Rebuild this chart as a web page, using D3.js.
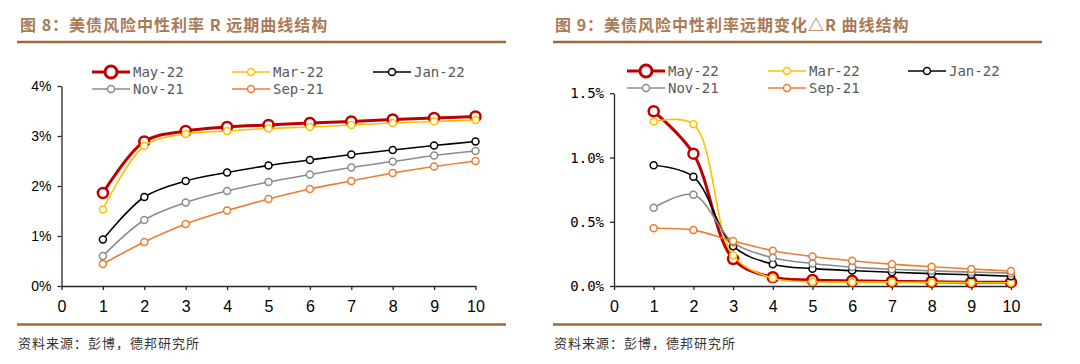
<!DOCTYPE html>
<html>
<head>
<meta charset="utf-8">
<script src="https://cdn.jsdelivr.net/npm/d3@7"></script>
<style>
  body { margin: 0; background: #fff; }
  svg { display: block; }
</style>
</head>
<body>
<div id="chart"></div>
<script>
// tenor (years) on the x axis
const tenors = [1, 2, 3, 4, 5, 6, 7, 8, 9, 10]
const seriesNames = ["May-22", "Mar-22", "Jan-22", "Nov-21", "Sep-21"]

// 图8: R level, %
const levelMay22 = [1.86, 2.89, 3.10, 3.18, 3.22, 3.26, 3.29, 3.33, 3.36, 3.39]
const levelMar22 = [1.53, 2.80, 3.04, 3.10, 3.15, 3.18, 3.22, 3.26, 3.29, 3.32]
const levelJan22 = [0.93, 1.78, 2.10, 2.27, 2.41, 2.52, 2.63, 2.72, 2.81, 2.89]
const levelNov21 = [0.60, 1.32, 1.67, 1.90, 2.08, 2.23, 2.37, 2.49, 2.61, 2.70]
const levelSep21 = [0.44, 0.88, 1.24, 1.51, 1.74, 1.94, 2.10, 2.26, 2.39, 2.50]

// 图9: forward change ΔR, %
const deltaMay22 = [1.36, 1.03, 0.21, 0.068, 0.047, 0.040, 0.036, 0.033, 0.030, 0.030]
const deltaMar22 = [1.28, 1.26, 0.24, 0.060, 0.033, 0.030, 0.030, 0.028, 0.026, 0.025]
const deltaJan22 = [0.94, 0.85, 0.31, 0.17, 0.135, 0.120, 0.107, 0.096, 0.087, 0.076]
const deltaNov21 = [0.61, 0.71, 0.34, 0.22, 0.175, 0.147, 0.130, 0.118, 0.108, 0.100]
const deltaSep21 = [0.45, 0.435, 0.35, 0.275, 0.230, 0.197, 0.170, 0.150, 0.132, 0.117]

const xTicks = [0, 1, 2, 3, 4, 5, 6, 7, 8, 9, 10]
const levelTicks = [0, 1, 2, 3, 4]
const deltaTicks = [0, 0.5, 1.0, 1.5]

const styles = {
    "May-22": {color: "#c00000", width: 3, r: 5, rw: 2.5, lr: 6, lrw: 3},
    "Mar-22": {color: "#ffc000", width: 1.6, r: 3.5, rw: 1.5, lr: 3.5, lrw: 1.5},
    "Jan-22": {color: "#000000", width: 1.6, r: 3.5, rw: 1.5, lr: 3.5, lrw: 1.5},
    "Nov-21": {color: "#8c8c8c", width: 1.6, r: 3.5, rw: 1.5, lr: 3.5, lrw: 1.5},
    "Sep-21": {color: "#ed7d31", width: 1.6, r: 3.5, rw: 1.5, lr: 3.5, lrw: 1.5},
}

const brown = "#a0693a"

var svg = d3.select("#chart").append("svg")
    .attr("width", 1080)
    .attr("height", 364)

svg.append("rect").attr("width", 1080).attr("height", 364).attr("fill", "#fff")

function drawPanel(opt) {
    var g = svg.append("g")

    // title + rules
    g.append("text")
        .attr("x", opt.titleX).attr("y", 31)
        .attr("font-family", "'Noto Sans CJK SC', sans-serif")
        .attr("font-weight", "bold")
        .attr("font-size", 16)
        .attr("letter-spacing", 1)
        .attr("fill", "#a87a55")
        .text(opt.title)
    g.append("line")
        .attr("x1", opt.ruleX0).attr("x2", opt.ruleX1)
        .attr("y1", 42).attr("y2", 42)
        .attr("stroke", brown).attr("stroke-width", 2.5)
    g.append("line")
        .attr("x1", opt.ruleX0).attr("x2", opt.ruleX1)
        .attr("y1", 324.5).attr("y2", 324.5)
        .attr("stroke", brown).attr("stroke-width", 2.5)
    g.append("text")
        .attr("x", opt.ruleX0 + 1).attr("y", 348)
        .attr("font-family", "'Noto Sans CJK SC', serif")
        .attr("font-size", 13)
        .attr("letter-spacing", 1)
        .attr("fill", "#333")
        .text("资料来源：彭博，德邦研究所")

    var x = d3.scaleLinear().domain([0, 10]).range([opt.x0, opt.x1])
    var y = d3.scaleLinear().domain(opt.yDomain).range([286, opt.yTop])

    // axes
    var xAxis = g.append("g")
        .attr("transform", "translate(0,286)")
        .call(d3.axisBottom(x).tickValues(xTicks).tickSize(4).tickSizeOuter(0).tickFormat(d3.format("d")))
    xAxis.selectAll("text")
        .attr("font-family", "'Liberation Sans', Arial, sans-serif")
        .attr("font-size", 16).attr("fill", "#000").attr("dy", 19)
    xAxis.selectAll("line, path").attr("stroke", "#262626").attr("stroke-width", 1.3)

    var yAxis = g.append("g")
        .attr("transform", "translate(" + opt.x0 + ",0)")
        .call(d3.axisLeft(y).tickValues(opt.yTicks).tickSize(4).tickSizeOuter(0).tickFormat(opt.yFormat))
    yAxis.selectAll("text")
        .attr("font-family", opt.yFont)
        .attr("font-size", 14).attr("fill", "#000").attr("x", -10)
    yAxis.selectAll("line, path").attr("stroke", "#262626").attr("stroke-width", 1.3)

    var line = d3.line()
        .x(function(d, i) { return x(tenors[i]) })
        .y(function(d) { return y(d) })
        .curve(d3.curveCatmullRom.alpha(0.5))

    opt.series.forEach(function(vals, k) {
        var name = seriesNames[k]
        var s = styles[name]
        var sg = g.append("g")
        sg.append("path")
            .attr("d", line(vals))
            .attr("fill", "none")
            .attr("stroke", s.color)
            .attr("stroke-width", s.width)
        sg.selectAll("circle")
            .data(vals)
            .enter().append("circle")
            .attr("cx", function(d, i) { return x(tenors[i]) })
            .attr("cy", function(d) { return y(d) })
            .attr("r", s.r)
            .attr("fill", "#fff")
            .attr("stroke", s.color)
            .attr("stroke-width", s.rw)
    })

    // legend
    var lg = g.append("g")
    seriesNames.forEach(function(name, k) {
        var s = styles[name]
        var col = k % 3, row = Math.floor(k / 3)
        var lx = opt.legX[col], ly = opt.legY[row]
        lg.append("line")
            .attr("x1", lx).attr("x2", lx + 38)
            .attr("y1", ly).attr("y2", ly)
            .attr("stroke", s.color).attr("stroke-width", s.width)
        lg.append("circle")
            .attr("cx", lx + 19).attr("cy", ly)
            .attr("r", s.lr)
            .attr("fill", "#fff")
            .attr("stroke", s.color).attr("stroke-width", s.lrw)
        lg.append("text")
            .attr("x", lx + 41).attr("y", ly + 5)
            .attr("font-family", "'DejaVu Sans Mono', monospace")
            .attr("font-size", 14)
            .attr("fill", "#595959")
            .text(name)
    })
}

drawPanel({
    title: "图 8：美债风险中性利率 R 远期曲线结构",
    titleX: 20, ruleX0: 17, ruleX1: 506,
    x0: 61.5, x1: 475.5,
    yDomain: [0, 4], yTop: 86, yTicks: levelTicks,
    yFormat: function(d) { return d + "%" },
    yFont: "'Liberation Sans', Arial, sans-serif",
    series: [levelMay22, levelMar22, levelJan22, levelNov21, levelSep21],
    legX: [92, 232, 373], legY: [72, 89]
})

drawPanel({
    title: "图 9：美债风险中性利率远期变化△R 曲线结构",
    titleX: 555, ruleX0: 553, ruleX1: 1042,
    x0: 614, x1: 1011,
    yDomain: [0, 1.5], yTop: 93.3, yTicks: deltaTicks,
    yFormat: function(d) { return d3.format(".1f")(d) + "%" },
    yFont: "'DejaVu Sans Mono', monospace",
    series: [deltaMay22, deltaMar22, deltaJan22, deltaNov21, deltaSep21],
    legX: [627, 768, 908], legY: [71, 88]
})
</script>
</body>
</html>
